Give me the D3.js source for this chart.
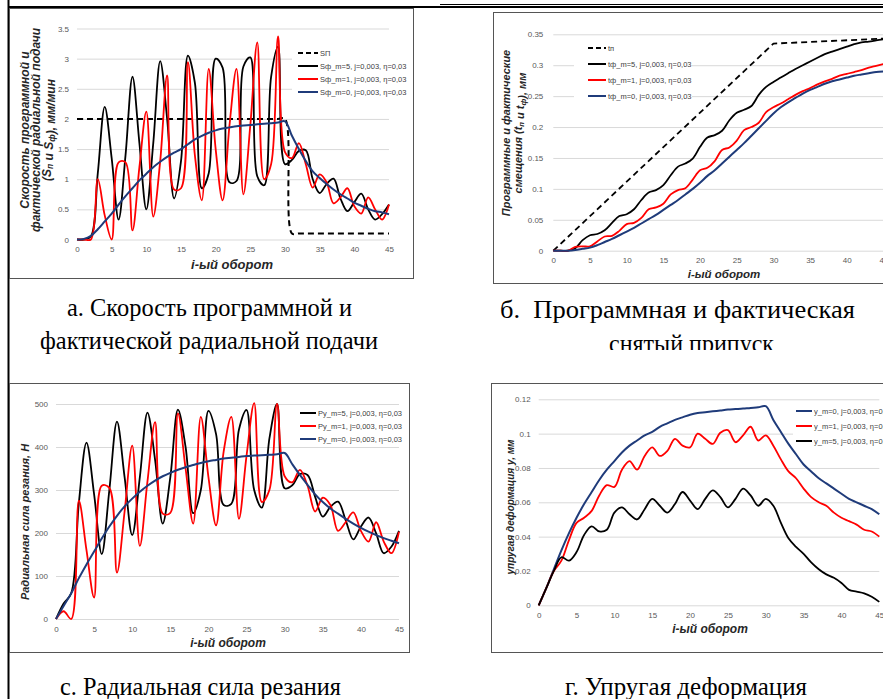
<!DOCTYPE html>
<html><head><meta charset="utf-8">
<script src="https://cdn.jsdelivr.net/npm/d3@7"></script>
<style>
html,body{margin:0;padding:0;background:#fff;}
svg{display:block;}
</style></head>
<body>
<svg id="fig" width="883" height="699"></svg>
<script>
// ---------------- DATA ----------------
const revolutions = [0,1,2,3,4,5,6,7,8,9,10,11,12,13,14,15,16,17,18,19,20,21,22,23,24,25,26,27,28,29,30,31,32,33,34,35,36,37,38,39,40,41,42,43,44,45];
const xTicks = [0,5,10,15,20,25,30,35,40,45];

// (a) feed rate
const sP = [2,2,2,2,2,2,2,2,2,2,2,2,2,2,2,2,2,2,2,2,2,2,2,2,2,2,2,2,2,2,2,0.1,0.1,0.1,0.1,0.1,0.1,0.1,0.1,0.1,0.1,0.1,0.1,0.1,0.1,0.1];
const sfM5 = [0,0,0.05,1.1,2.2,1.35,0.33,1.4,2.7,1.6,0.5,1.6,2.96,2.0,0.68,1.3,3.05,2.6,0.85,1.1,3.0,2.85,0.95,0.97,2.87,3.02,1.05,0.9,2.7,3.2,1.25,1.32,1.47,1.48,1.0,0.77,0.92,1.01,0.68,0.47,0.62,0.76,0.5,0.33,0.42,0.58];
const sfM1 = [0,0,0,1.0,0.4,0.0,1.28,1.28,0.15,1.2,2.12,0.38,1.3,2.72,0.83,0.85,2.94,1.4,0.65,2.83,1.5,0.65,1.9,2.83,0.75,1.9,3.27,1.0,1.25,3.37,1.45,1.35,1.6,1.25,0.86,1.08,0.95,0.6,0.7,0.85,0.55,0.43,0.7,0.5,0.33,0.58];
const sfM0 = [0,0.01,0.06,0.17,0.3,0.43,0.58,0.72,0.85,0.98,1.09,1.2,1.29,1.37,1.44,1.5,1.58,1.66,1.72,1.77,1.81,1.84,1.86,1.88,1.89,1.9,1.91,1.92,1.93,1.94,1.96,1.72,1.5,1.3,1.13,1.02,0.92,0.83,0.75,0.68,0.61,0.56,0.51,0.47,0.45,0.42];
const aYTicks = [0,0.5,1,1.5,2,2.5,3,3.5];

// (b) programmed and actual displacement
const tPX = [0,30,45];
const tPY = [0,0.335,0.343];
const tfM5 = [0,0,0,0.004,0.017,0.025,0.027,0.033,0.045,0.056,0.059,0.067,0.082,0.094,0.098,0.106,0.122,0.136,0.141,0.149,0.168,0.183,0.187,0.194,0.211,0.223,0.228,0.234,0.252,0.265,0.273,0.28,0.287,0.294,0.3,0.306,0.312,0.318,0.322,0.326,0.33,0.334,0.337,0.338,0.34,0.342];
const tfM1 = [0,0,0,0.006,0.007,0.007,0.015,0.023,0.024,0.032,0.043,0.045,0.053,0.067,0.07,0.076,0.091,0.098,0.101,0.115,0.13,0.134,0.145,0.163,0.167,0.178,0.195,0.2,0.207,0.224,0.232,0.238,0.245,0.252,0.258,0.263,0.269,0.274,0.278,0.283,0.286,0.289,0.292,0.296,0.299,0.302];
const tfM0 = [0,0,0,0.001,0.003,0.005,0.009,0.014,0.019,0.025,0.031,0.037,0.044,0.051,0.058,0.066,0.074,0.082,0.091,0.1,0.11,0.121,0.13,0.141,0.152,0.163,0.174,0.186,0.198,0.21,0.222,0.232,0.24,0.247,0.254,0.26,0.265,0.27,0.274,0.277,0.28,0.283,0.285,0.287,0.289,0.29];
const bYTicks = [0,0.05,0.1,0.15,0.2,0.25,0.3,0.35];

// (c) radial cutting force
const pyM5 = [0,36,60,270,410,290,151,300,459,330,195,330,480,370,222,330,487,400,246,300,484,430,265,268,440,486,300,259,420,500,304,311,337,335,284,238,261,273,230,185,215,236,199,153,168,205];
const pyM1 = [0,18,0,275,160,50,310,305,108,250,403,170,320,458,245,247,478,350,222,470,330,218,390,470,233,380,502,272,300,500,332,318,347,310,250,282,265,205,225,248,205,180,225,180,153,203];
const pyM0 = [0,30,60,95,127,157,187,215,240,262,280,296,310,322,332,340,347,353,358,363,367,370,373,375,377,379,380,381,382,383,386,360,335,312,290,272,257,245,233,222,212,203,195,188,182,176];
const cYTicks = [0,100,200,300,400,500];

// (d) elastic deformation
const yM0 = [0,0.01,0.021,0.032,0.042,0.051,0.059,0.066,0.073,0.079,0.084,0.089,0.093,0.096,0.099,0.101,0.104,0.106,0.108,0.1095,0.111,0.112,0.1125,0.113,0.1135,0.114,0.1143,0.1146,0.115,0.1153,0.116,0.108,0.101,0.094,0.088,0.082,0.078,0.074,0.071,0.068,0.065,0.062,0.06,0.058,0.056,0.053];
const yM1 = [0,0.01,0.02,0.026,0.038,0.048,0.051,0.055,0.064,0.07,0.069,0.079,0.084,0.079,0.087,0.092,0.087,0.09,0.097,0.093,0.092,0.1,0.097,0.094,0.1005,0.102,0.095,0.099,0.104,0.096,0.099,0.093,0.085,0.078,0.074,0.068,0.063,0.06,0.058,0.054,0.051,0.049,0.047,0.044,0.043,0.04];
const yM5 = [0,0.01,0.02,0.028,0.026,0.031,0.041,0.046,0.043,0.044,0.054,0.057,0.053,0.05,0.056,0.062,0.058,0.054,0.059,0.066,0.061,0.056,0.062,0.067,0.063,0.057,0.062,0.068,0.064,0.058,0.062,0.058,0.048,0.039,0.034,0.03,0.025,0.021,0.018,0.016,0.013,0.009,0.008,0.007,0.005,0.002];
const dYTicks = [0,0.02,0.04,0.06,0.08,0.1,0.12];

// ---------------- DRAWING ----------------
const svg = d3.select('#fig');
const BLACK = '#000000', RED = '#ff0000', BLUE = '#1f3b7a';
const SANS = "'Liberation Sans', Arial, sans-serif";
const SERIF = "'Liberation Serif', 'Times New Roman', serif";

function pairs(xs, ys){ return xs.map((x,i)=>[x, ys[i]]); }

function drawChart(o){
  const g = svg.append('g');
  g.append('rect').attr('x', o.box[0]+0.5).attr('y', o.box[1]+0.5)
    .attr('width', o.box[2]-o.box[0]).attr('height', o.box[3]-o.box[1])
    .attr('fill', '#fff').attr('stroke', '#555').attr('stroke-width', 1);
  const x = d3.scaleLinear().domain([0,45]).range([o.x0, o.x1]);
  const y = d3.scaleLinear().domain([0, o.ymax]).range([o.y0, o.y1]);
  const ya = g.append('g').attr('transform', `translate(${o.x0},0)`)
    .call(d3.axisLeft(y).tickValues(o.yticks).tickSize(-(o.x1-o.x0)).tickPadding(o.ypad||8).tickFormat(o.yfmt));
  ya.select('.domain').remove();
  ya.selectAll('line').attr('stroke', '#d9d9d9').attr('stroke-width', 1);
  ya.selectAll('text').attr('fill', '#595959').style('font', `${o.tickFs||8}px ${SANS}`);
  const xa = g.append('g').attr('transform', `translate(0,${o.y0})`)
    .call(d3.axisBottom(x).tickValues(xTicks).tickSize(0).tickPadding(o.xpad||7).tickFormat(d3.format('d')));
  xa.select('.domain').remove();
  xa.selectAll('text').attr('fill', '#595959').style('font', `${o.tickFs||8}px ${SANS}`);
  if (o.legendBg) g.append('rect').attr('x', o.legendBg[0]).attr('y', o.legendBg[1])
      .attr('width', o.legendBg[2]).attr('height', o.legendBg[3]).attr('fill', '#fff');
  o.series.forEach(s=>{
    const line = d3.line().x(d=>x(d[0])).y(d=>y(d[1]))
      .curve(s.linear ? d3.curveLinear : d3.curveCatmullRom.alpha(0.5));
    g.append('path').datum(pairs(s.xs || revolutions, s.ys)).attr('d', line)
      .attr('fill','none').attr('stroke', s.color).attr('stroke-width', s.width||1.8)
      .attr('stroke-dasharray', s.dash ? '6,4' : null).attr('stroke-linejoin','round');
  });
  o.legend.items.forEach((it, i)=>{
    const ly = o.legend.y + i*o.legend.dy;
    g.append('line').attr('x1', o.legend.x).attr('x2', o.legend.x + o.legend.len)
      .attr('y1', ly).attr('y2', ly).attr('stroke', it.color).attr('stroke-width', 2)
      .attr('stroke-dasharray', it.dash ? '5,3' : null);
    g.append('text').attr('x', o.legend.x + o.legend.len + 2).attr('y', ly).attr('dy','0.35em')
      .attr('fill', '#404040').style('font', `${o.legend.fs||7.5}px ${SANS}`).text(it.label);
  });
  g.append('text').attr('x', o.xTitle[0]).attr('y', o.xTitle[1]).attr('dy','0.35em').attr('text-anchor','middle')
    .attr('fill', '#262626').style('font', `italic bold ${o.xTitle[2]}px ${SANS}`).text('i-ый оборот');
  o.yTitle.lines.forEach((ln)=>{
    const t = g.append('text').attr('transform', `translate(${ln.x},${o.yTitle.cy}) rotate(-90)`)
      .attr('text-anchor','middle').attr('dy','0.35em').attr('fill','#262626')
      .style('font', `italic bold ${o.yTitle.fs}px ${SANS}`);
    ln.parts.forEach(p=>{
      if (typeof p === 'string') t.append('tspan').text(p);
      else t.append('tspan').attr('dy', '0.25em').style('font-size', (o.yTitle.fs*0.7)+'px').text(p.sub)
             .call(()=>{ t.append('tspan').attr('dy','-0.25em').text(''); });
    });
  });
  return g;
}

// Table borders
svg.append('line').attr('x1', 8.5).attr('x2', 8.5).attr('y1', 0).attr('y2', 699).attr('stroke', '#000').attr('stroke-width', 2);
svg.append('line').attr('x1', 8).attr('x2', 883).attr('y1', 7).attr('y2', 7).attr('stroke', '#000').attr('stroke-width', 2);
svg.append('line').attr('x1', 440).attr('x2', 883).attr('y1', 4.5).attr('y2', 4.5).attr('stroke', '#000').attr('stroke-width', 1);

// (a)
drawChart({
  box:[9,8,413,278], x0:77, x1:389, y0:239.5, y1:28.5, ymax:3.5, yticks:aYTicks, yfmt:d3.format('~g'),
  legendBg:[292,46,110,53],
  series:[
    {ys:sP, color:BLACK, dash:true, width:2},
    {ys:sfM5, color:BLACK},
    {ys:sfM1, color:RED},
    {ys:sfM0, color:BLUE, width:2}
  ],
  legend:{x:298, y:53, dy:13, len:20, items:[
    {label:'SП', color:BLACK, dash:true},
    {label:'Sф_m=5, j=0,003, η=0,03', color:BLACK},
    {label:'Sф_m=1, j=0,003, η=0,03', color:RED},
    {label:'Sф_m=0, j=0,003, η=0,03', color:BLUE}]},
  xTitle:[232,264,13],
  yTitle:{cy:130, fs:12, lines:[
    {x:25, parts:['Скорость программной и']},
    {x:36, parts:['фактической радиальной подачи']},
    {x:47, parts:['(S',{sub:'п'},' и S',{sub:'ф'},'), мм/мин']}]}
});

// (b)
drawChart({
  box:[493,12,900,283], x0:553.3, x1:883.5, y0:250.7, y1:34.3, ymax:0.35, yticks:bYTicks, yfmt:d3.format('~g'), ypad:10,
  legendBg:[574,38,118,66],
  series:[
    {xs:tPX, ys:tPY, color:BLACK, dash:true, width:1.8, linear:true},
    {ys:tfM5, color:BLACK},
    {ys:tfM1, color:RED},
    {ys:tfM0, color:BLUE, width:2}
  ],
  legend:{x:588, y:48, dy:16, len:18, items:[
    {label:'tп', color:BLACK, dash:true},
    {label:'tф_m=5, j=0,003, η=0,03', color:BLACK},
    {label:'tф_m=1, j=0,003, η=0,03', color:RED},
    {label:'tф_m=0, j=0,003, η=0,03', color:BLUE}]},
  xTitle:[724,274,11.5],
  yTitle:{cy:133, fs:11, lines:[
    {x:506, parts:['Программные и фактические']},
    {x:518, parts:['смещения (t',{sub:'п'},' и t',{sub:'ф'},'), мм']}]}
});

// (c)
drawChart({
  box:[9,383,409,652], x0:56, x1:399, y0:619, y1:404, ymax:500, yticks:cYTicks, yfmt:d3.format('d'),
  legendBg:null,
  series:[
    {ys:pyM5, color:BLACK},
    {ys:pyM1, color:RED},
    {ys:pyM0, color:BLUE, width:2}
  ],
  legend:{x:300, y:413, dy:13, len:16, items:[
    {label:'Py_m=5, j=0,003, η=0,03', color:BLACK},
    {label:'Py_m=1, j=0,003, η=0,03', color:RED},
    {label:'Py_m=0, j=0,003, η=0,03', color:BLUE}]},
  xTitle:[228,643,12],
  yTitle:{cy:522, fs:11, lines:[{x:25, parts:['Радиальная сила резания, Н']}]}
});

// (d)
drawChart({
  box:[491,383,900,652], x0:538.7, x1:879.3, y0:605.3, y1:399.3, ymax:0.12, yticks:dYTicks, yfmt:d3.format('~g'),
  legendBg:[793,403,95,45],
  series:[
    {ys:yM0, color:BLUE, width:2},
    {ys:yM1, color:RED},
    {ys:yM5, color:BLACK}
  ],
  legend:{x:796, y:411, dy:15, len:16, items:[
    {label:'y_m=0, j=0,003, η=0,03', color:BLUE},
    {label:'y_m=1, j=0,003, η=0,03', color:RED},
    {label:'y_m=5, j=0,003, η=0,03', color:BLACK}]},
  xTitle:[710,629,12],
  yTitle:{cy:507, fs:10, lines:[{x:510, parts:['упругая деформация y,  мм']}]}
});

// Captions
const defs = svg.append('defs');
defs.append('clipPath').attr('id','capclip').append('rect').attr('x',440).attr('y',280).attr('width',443).attr('height',70);
function caption(txt, x0, x1, cy, clip){
  const t = svg.append('text').attr('x', x0).attr('y', cy).attr('dy','0.35em')
    .attr('textLength', x1-x0).attr('lengthAdjust','spacingAndGlyphs')
    .attr('fill','#000').style('font', `26px ${SERIF}`).style('white-space','pre').text(txt);
  if (clip) t.attr('clip-path','url(#capclip)');
}
caption('а. Скорость программной и', 67, 352, 307);
caption('фактической радиальной подачи', 40, 378, 340);
caption('б.  Программная и фактическая', 500, 855, 309);
caption('снятый припуск', 609, 774, 343, true);
caption('с. Радиальная сила резания', 60, 341, 686);
caption('г. Упругая деформация', 565, 807, 686);
</script>
</body></html>
